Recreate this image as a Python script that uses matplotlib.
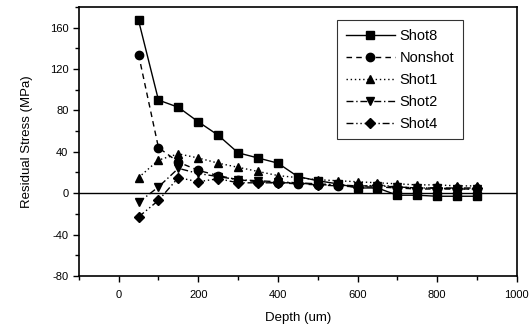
import matplotlib
matplotlib.use('Agg')
import matplotlib.pyplot as plt
from matplotlib.ticker import MultipleLocator

plt.rcParams['font.family'] = ['Liberation Sans', 'DejaVu Sans']
plt.rcParams['axes.unicode_minus'] = False

# depth positions (um)
depth = [50, 100, 150, 200, 250, 300, 350, 400, 450, 500,
         550, 600, 650, 700, 750, 800, 850, 900]

# residual stress (MPa)
shot8 = [167, 90, 83, 69, 56, 39, 34, 29, 16, 12, 9, 5, 5, -2, -2, -3, -3, -3]
nonshot = [134, 44, 30, 22, 17, 13, 11, 10, 9, 8, 7, 6, 6, 5, 4, 4, 4, 4]
shot1 = [15, 32, 38, 34, 29, 25, 21, 17, 15, 13, 12, 11, 10, 9, 8, 8, 7, 7]
shot2 = [-9, 6, 24, 19, 16, 13, 12, 11, 10, 9, 8, 7, 7, 6, 5, 5, 4, 4]
shot4 = [-23, -7, 15, 11, 14, 10, 10, 10, 10, 8, 8, 6, 8, 6, 5, 5, 5, 5]

series = [
    ('Shot8', shot8, '-', 's'),
    ('Nonshot', nonshot, (0, (4, 3)), 'o'),
    ('Shot1', shot1, (0, (1, 2)), '^'),
    ('Shot2', shot2, (0, (5, 2, 1, 2)), 'v'),
    ('Shot4', shot4, (0, (5, 2, 1, 2, 1, 2)), 'D'),
]

fig = plt.figure(figsize=(5.29, 3.32), dpi=100)
ax = fig.add_axes([0.149, 0.169, 0.828, 0.81])

for name, vals, ls, mk in series:
    ms = 5 if mk == 'D' else 6
    ax.plot(depth, vals, color='black', linestyle=ls, linewidth=1.0,
            marker=mk, markersize=ms, label=name)

ax.axhline(0, color='black', linewidth=1.0)

ax.set_xlim(-100, 1000)
ax.set_ylim(-80, 180)
ax.xaxis.set_major_locator(MultipleLocator(200))
ax.xaxis.set_minor_locator(MultipleLocator(100))
ax.yaxis.set_minor_locator(MultipleLocator(20))
ax.set_yticks([-80, -40, 0, 40, 80, 120, 160])
ax.tick_params(which='both', direction='out', labelsize=8, width=1.0)
ax.tick_params(which='major', length=4)
ax.tick_params(which='minor', length=3)
ax.tick_params(axis='x', which='major', pad=6)
for sp in ax.spines.values():
    sp.set_linewidth(1.2)

ax.set_xlabel('Depth (um)', fontsize=9.5, labelpad=9)
ax.set_ylabel('Residual Stress (MPa)', fontsize=9.5, labelpad=12)

leg = ax.legend(loc='upper right', bbox_to_anchor=(0.877, 0.952), fontsize=10.5,
                frameon=True, fancybox=False, edgecolor='black',
                handlelength=3.4, borderpad=0.6, labelspacing=0.55,
                handletextpad=0.3, borderaxespad=0)
leg.get_frame().set_linewidth(0.8)

fig.savefig('out.png', dpi=100)
